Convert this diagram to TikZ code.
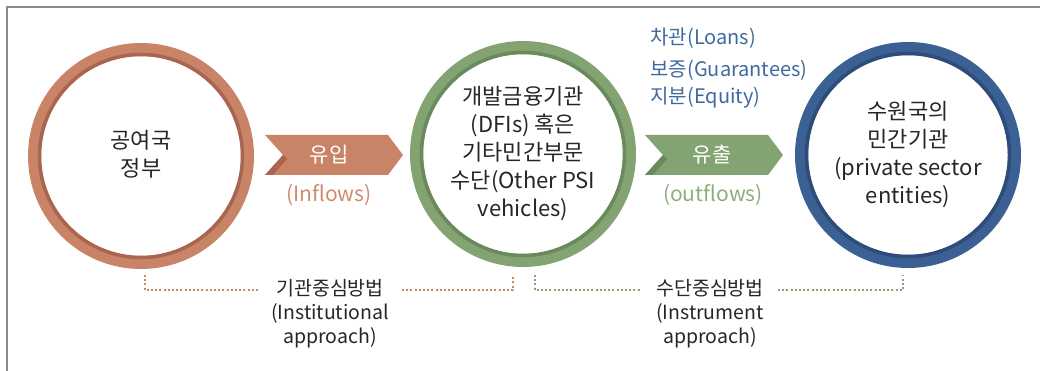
\documentclass[tikz,border=0pt]{standalone}
\usepackage{fontspec}
\setmainfont{Noto Sans CJK KR}
\definecolor{orng}{HTML}{C98468}
\definecolor{orngd}{HTML}{A9654F}
\definecolor{orngt}{HTML}{D08A6E}
\definecolor{grn}{HTML}{84A372}
\definecolor{grnd}{HTML}{6B8A5C}
\definecolor{grnt}{HTML}{8DAE7B}
\definecolor{blu}{HTML}{3B6194}
\definecolor{blud}{HTML}{2D4C7A}
\definecolor{blut}{HTML}{3F6A9E}
\definecolor{frame}{HTML}{8A8A8A}
\begin{document}
\begin{tikzpicture}[x=1pt,y=-1pt,
  ringtext/.style={align=center,font=\fontsize{22}{28}\selectfont,text=black!85},
  flowlbl/.style={text=white,font=\fontsize{21}{24}\selectfont},
  flowsub/.style={font=\fontsize{21}{24}\selectfont},
  apptext/.style={align=center,font=\fontsize{19.5}{24}\selectfont,text=black!85},
  instr/.style={anchor=west,text=blut,font=\fontsize{20}{22}\selectfont},
  dotline/.style={line width=2.2pt,dash pattern=on 2pt off 2.2pt}]
\useasboundingbox (0,0) rectangle (1040,371);
% frame
\draw[frame,line width=2pt] (7,371) -- (7,7) -- (1040,7);
% rings
\foreach \cx/\cy/\c/\d in {141/156/orng/orngd, 523/154/grn/grnd, 908/155/blu/blud}{
  \draw[\c,line width=13pt] (\cx,\cy) circle (106.5);
  \draw[\d,line width=3.5pt] (\cx,\cy) circle (101.5);
}
\node[ringtext] (gov) at (141,154) {공여국\\정부};
\node[ringtext] (dfi) at (523,153.5) {개발금융기관\\(DFIs) 혹은\\기타민간부문\\수단(Other PSI\\vehicles)};
\node[ringtext] (pse) at (908,155) {수원국의\\민간기관\\(private sector\\entities)};
% chevrons
\fill[orng] (265,135) -- (388,135) -- (403,155) -- (388,175) -- (265,175) -- (283,155) -- cycle;
\fill[orngd] (265,175) -- (283,155) -- (287,159) -- (273,175) -- cycle;
\fill[grn] (645,135) -- (768,135) -- (783,155) -- (768,175) -- (645,175) -- (663,155) -- cycle;
\fill[grnd] (645,175) -- (663,155) -- (667,159) -- (653,175) -- cycle;
\node[flowlbl] (in) at (329,155) {유입};
\node[flowsub,text=orngt] (ins) at (329,195) {(Inflows)};
\node[flowlbl] (out) at (712,155) {유출};
\node[flowsub,text=grnt] (outs) at (713,195) {(outflows)};
% instruments
\node[instr] (loans) at (647,38) {차관(Loans)};
\node[instr] (guar) at (647,70) {보증(Guarantees)};
\node[instr] (eq) at (647,98) {지분(Equity)};
% approaches
\node[apptext] (inst) at (330,314) {기관중심방법\\(Institutional\\approach)};
\node[apptext] (instru) at (710,314) {수단중심방법\\(Instrument\\approach)};
\coordinate (a1) at (145,275);
\coordinate (a2) at (258,290);
\coordinate (a3) at (402,290);
\coordinate (a4) at (513,275);
\coordinate (b1) at (535,275);
\coordinate (b2) at (640,290);
\coordinate (b3) at (778,290);
\coordinate (b4) at (903,275);
\draw[dotline,orng] (a1) |- (a2);
\draw[dotline,orng] (a3) -| (a4);
\draw[dotline,grn] (b1) |- (b2);
\draw[dotline,grn] (b3) -| (b4);
\end{tikzpicture}
\end{document}
